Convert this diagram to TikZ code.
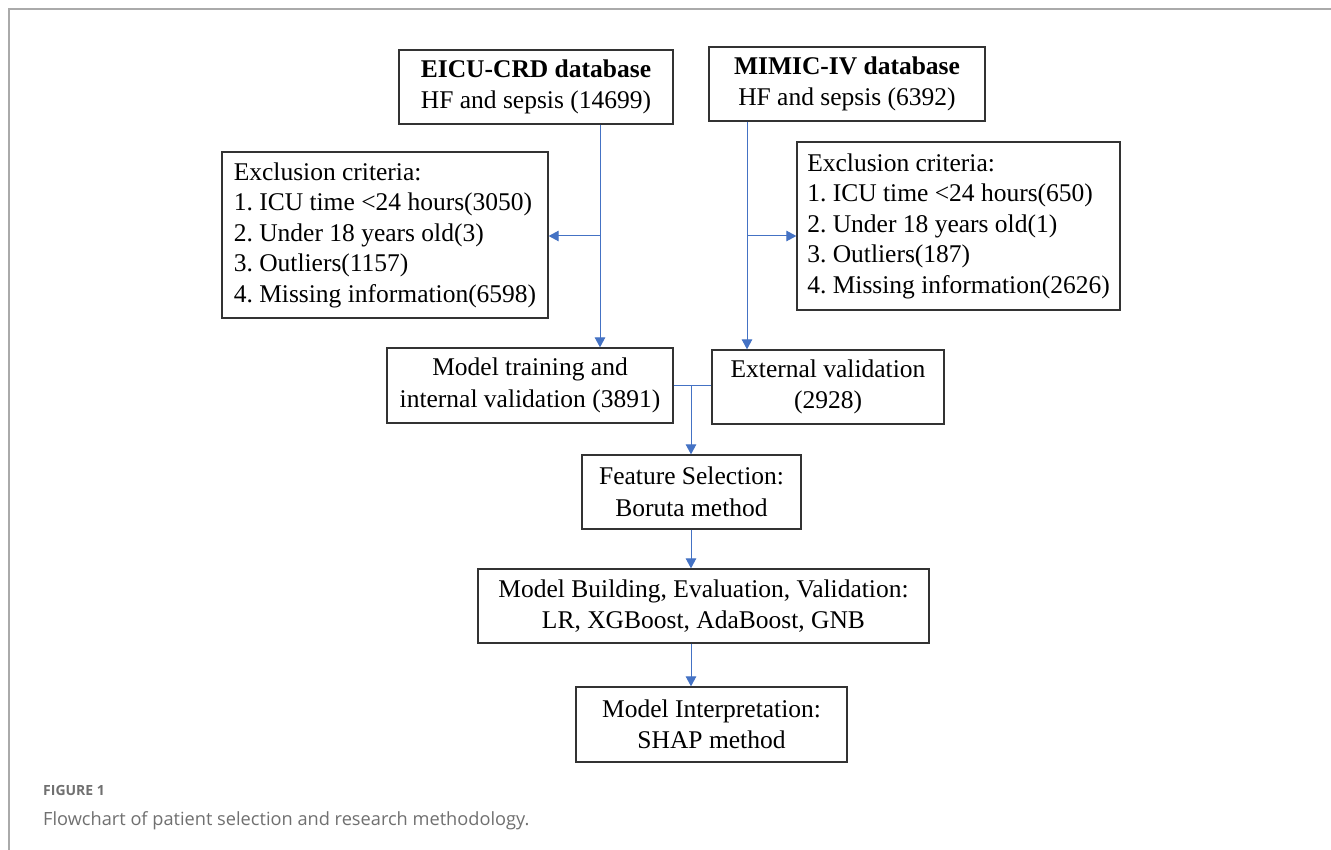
\documentclass[tikz,border=0pt]{standalone}
\usepackage{fontspec}
\setmainfont{Liberation Serif}
\newfontfamily\capfont{Open Sans}
\usetikzlibrary{arrows.meta}
\definecolor{arrowblue}{HTML}{4472C4}
\definecolor{boxline}{HTML}{333333}
\definecolor{framegray}{HTML}{AAAAAA}
\definecolor{capgray}{HTML}{707070}
\tikzset{
  box/.style={draw=boxline, line width=1.3pt, inner sep=0pt, align=center,
    font=\frenchspacing\fontsize{25.5}{31.5}\selectfont},
  exbox/.style={draw=boxline, line width=1.3pt, inner sep=0pt, align=left,
    font=\frenchspacing\fontsize{25.5}{30.5}\selectfont},
  arr/.style={draw=arrowblue, line width=1pt, -{Triangle[length=10pt,width=10.5pt]}},
  conn/.style={draw=arrowblue, line width=1pt},
}
\begin{document}
\begin{tikzpicture}[x=1pt,y=-1pt]
\useasboundingbox (0,0) rectangle (1331,850);
\fill[white] (0,0) rectangle (1331,850);
% frame
\draw[framegray, line width=1.5pt] (9,850) -- (9,9) -- (1331,9);
% boxes
\node[box, minimum width=274pt, minimum height=74pt] (eicu) at (536,87)
  {\textbf{EICU-CRD database}\\HF and sepsis (14699)};
\node[box, minimum width=276pt, minimum height=74pt] (mimic) at (847,84)
  {\textbf{MIMIC-IV database}\\HF and sepsis (6392)};
\node[exbox, minimum width=326pt, minimum height=166pt] (exl) at (385,235)
  {Exclusion criteria:\\1. ICU time <24 hours(3050)\\2. Under 18 years old(3)\\3. Outliers(1157)\\4. Missing information(6598)};
\node[exbox, minimum width=323pt, minimum height=168pt] (exr) at (958.5,226)
  {Exclusion criteria:\\1. ICU time <24 hours(650)\\2. Under 18 years old(1)\\3. Outliers(187)\\4. Missing information(2626)};
\node[box, minimum width=286pt, minimum height=75pt] (train) at (530,385.5)
  {Model training and\\internal validation (3891)};
\node[box, minimum width=232pt, minimum height=74pt] (ext) at (828,387)
  {External validation\\(2928)};
\node[box, minimum width=219pt, minimum height=74pt] (feat) at (691.5,492)
  {Feature Selection:\\Boruta method};
\node[box, minimum width=451pt, minimum height=74pt] (build) at (703.5,606)
  {Model Building, Evaluation, Validation:\\LR, XGBoost, AdaBoost, GNB};
\node[box, minimum width=271pt, minimum height=75pt] (interp) at (711.5,724.5)
  {Model Interpretation:\\SHAP method};
% connectors
\coordinate (tl) at (600,236);
\coordinate (tr) at (747,236);
\coordinate (jm) at (691,385);
\draw[arr] (eicu.south -| tl) -- (train.north -| tl);
\draw[arr] (tl) -- (exl.east |- tl);
\draw[arr] (mimic.south -| tr) -- (ext.north -| tr);
\draw[arr] (tr) -- (exr.west |- tr);
\draw[conn] (train.east |- jm) -- (ext.west |- jm);
\draw[arr] (jm) -- (feat.north -| jm);
\draw[arr] (feat.south -| jm) -- (build.north -| jm);
\draw[arr] (build.south -| jm) -- (interp.north -| jm);
% caption
\node[anchor=base west, inner sep=0pt, text=capgray, font=\capfont\bfseries\fontsize{14}{16}\selectfont] (figlab) at (43,795) {FIGURE 1};
\node[anchor=base west, inner sep=0pt, text=capgray, font=\capfont\fontsize{18.2}{22}\selectfont] (figcap) at (43,825) {Flowchart of patient selection and research methodology.};
\end{tikzpicture}
\end{document}
